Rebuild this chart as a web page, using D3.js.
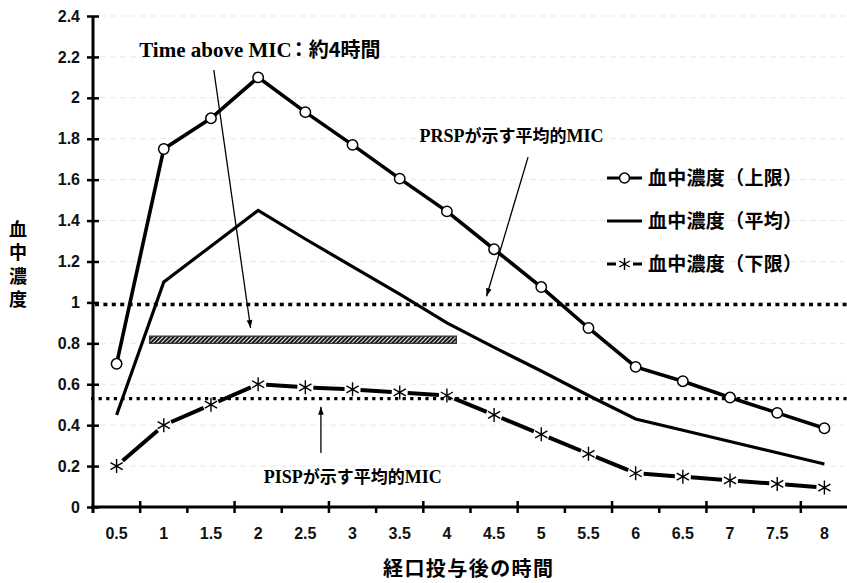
<!DOCTYPE html>
<html><head><meta charset="utf-8">
<script src="https://cdn.jsdelivr.net/npm/d3@7"></script>
<style>body{margin:0;background:#fff}svg{display:block}</style>
</head><body><svg id="c" width="847" height="583"></svg>
<script>
// ---- data ----
const categories = ["0.5","1","1.5","2","2.5","3","3.5","4","4.5","5","5.5","6","6.5","7","7.5","8"];
const upperValues = [0.70,1.75,1.90,2.10,1.93,1.77,1.605,1.445,1.26,1.075,0.875,0.685,0.615,0.535,0.46,0.385];
const meanValues  = [0.45,1.10,1.275,1.45,1.31,1.175,1.04,0.90,0.78,0.665,0.545,0.43,0.375,0.32,0.265,0.21];
const lowerValues = [0.20,0.40,0.50,0.60,0.585,0.575,0.56,0.545,0.45,0.355,0.26,0.165,0.148,0.13,0.113,0.095];
const yTicks = [0,0.2,0.4,0.6,0.8,1,1.2,1.4,1.6,1.8,2,2.2,2.4];
const yTickLabels = ["0","0.2","0.4","0.6","0.8","1","1.2","1.4","1.6","1.8","2","2.2","2.4"];
const seriesNames = ["血中濃度（上限）","血中濃度（平均）","血中濃度（下限）"];
const micPRSP = 0.99, micPISP = 0.53;
const timeAboveMic = [0.85, 4.1];     // hours
const timeBarLevel = [0.80, 0.835];   // concentration band of hatched bar
const yTitle = "血中濃度";
const xTitle = "経口投与後の時間";

// ---- scales ----
const svg = d3.select("#c");
const x = d3.scaleBand().domain(categories).range([93, 848]).padding(0);
const bw = x.bandwidth();
const cx = c => x(c) + bw/2;
const y = d3.scaleLinear().domain([0, 2.4]).range([507, 16]);
const xh = d3.scaleLinear().domain([0.5, 8]).range([cx("0.5"), cx("8")]);

const sans = "'Liberation Sans', Arial, sans-serif";
const jp = "'Noto Sans CJK JP', sans-serif";
const serif = "'Liberation Serif', 'Times New Roman', 'DejaVu Serif', serif";

// defs
const defs = svg.append("defs");
const pat = defs.append("pattern").attr("id","hatch").attr("patternUnits","userSpaceOnUse")
  .attr("width",3).attr("height",3).attr("patternTransform","rotate(45)");
pat.append("rect").attr("width",3).attr("height",3).attr("fill","#fff");
pat.append("line").attr("x1",1).attr("y1",0).attr("x2",1).attr("y2",3)
  .attr("stroke","#1a1a1a").attr("stroke-width",2.1);
const mk = defs.append("marker").attr("id","arr").attr("viewBox","0 0 10 10")
  .attr("refX",10).attr("refY",5).attr("markerWidth",10).attr("markerHeight",8)
  .attr("markerUnits","userSpaceOnUse").attr("orient","auto");
mk.append("path").attr("d","M0,1.5 L10,5 L0,8.5 Z").attr("fill","#000");

// faint gridlines
svg.append("g").selectAll("line").data(yTicks.slice(1)).join("line")
  .attr("x1", 100).attr("x2", 845).attr("y1", d=>y(d)).attr("y2", d=>y(d))
  .attr("stroke","#e9e9e9").attr("stroke-width",1).attr("stroke-dasharray","6,4");

// y axis
const yAxis = d3.axisLeft(y).tickValues(yTicks).tickFormat((d,i)=>yTickLabels[i])
  .tickSize(6).tickPadding(7);
const gy = svg.append("g").attr("transform","translate(93,0)").call(yAxis);
gy.select(".domain").remove();
gy.selectAll(".tick line").attr("x1",6).attr("x2",-6).attr("stroke","#000").attr("stroke-width",2.5);
gy.selectAll(".tick text").attr("font-family",sans).attr("font-weight","bold").attr("font-size",16).attr("fill","#111");
svg.append("line").attr("x1",93).attr("x2",93).attr("y1",y(2.4)).attr("y2",513)
  .attr("stroke","#000").attr("stroke-width",3);

// x axis
const xAxis = d3.axisBottom(x).tickSize(0).tickPadding(20.5);
const gx = svg.append("g").attr("transform",`translate(0,${y(0)})`).call(xAxis);
gx.select(".domain").remove();
gx.selectAll(".tick text").attr("font-family",sans).attr("font-weight","bold").attr("font-size",16).attr("fill","#111");
svg.append("line").attr("x1",91).attr("x2",847).attr("y1",y(0)).attr("y2",y(0))
  .attr("stroke","#000").attr("stroke-width",3);
svg.append("g").selectAll("line").data(categories.slice(1)).join("line")
  .attr("x1", d=>x(d)).attr("x2", d=>x(d))
  .attr("y1", (d,i)=> i%2===0 ? y(0)-6 : y(0)).attr("y2", y(0)+6)
  .attr("stroke","#000").attr("stroke-width",2.5);

// MIC dotted lines
svg.append("line").attr("x1",95).attr("x2",847).attr("y1",y(micPRSP)).attr("y2",y(micPRSP))
  .attr("stroke","#000").attr("stroke-width",3.5).attr("stroke-dasharray","4,4.4");
svg.append("line").attr("x1",91).attr("x2",847).attr("y1",y(micPISP)).attr("y2",y(micPISP))
  .attr("stroke","#000").attr("stroke-width",3.2).attr("stroke-dasharray","3.2,4.4");

// hatched bar
svg.append("rect").attr("x",xh(timeAboveMic[0])).attr("width",xh(timeAboveMic[1])-xh(timeAboveMic[0]))
  .attr("y",y(timeBarLevel[1])).attr("height",y(timeBarLevel[0])-y(timeBarLevel[1]))
  .attr("fill","url(#hatch)").attr("stroke","#333").attr("stroke-width",1.3);

// mean line
const line = d3.line().x(d=>cx(d[0])).y(d=>y(d[1]));
svg.append("path").datum(categories.map((c,i)=>[c,meanValues[i]])).attr("d",line)
  .attr("fill","none").attr("stroke","#000").attr("stroke-width",3.2).attr("stroke-linejoin","miter");

// upper line
const upPts = categories.map((c,i)=>[c,upperValues[i]]);
svg.append("path").datum(upPts).attr("d",line)
  .attr("fill","none").attr("stroke","#000").attr("stroke-width",3.6);
svg.append("g").selectAll("circle").data(upPts).join("circle")
  .attr("cx",d=>cx(d[0])).attr("cy",d=>y(d[1])).attr("r",5.2)
  .attr("fill","#fff").attr("stroke","#000").attr("stroke-width",1.5);

// lower line: segments with gaps around markers
const loPts = categories.map((c,i)=>[cx(c), y(lowerValues[i])]);
const gap = 8;
svg.append("g").selectAll("line").data(d3.pairs(loPts)).join("line")
  .each(function([a,b]){
    const dx=b[0]-a[0], dy=b[1]-a[1], L=Math.hypot(dx,dy), ux=dx/L, uy=dy/L;
    d3.select(this).attr("x1",a[0]+ux*gap).attr("y1",a[1]+uy*gap)
      .attr("x2",b[0]-ux*gap).attr("y2",b[1]-uy*gap);
  })
  .attr("stroke","#000").attr("stroke-width",4);
function star(g, px, py, s){
  const p = `M${px},${py-s}L${px},${py+s}M${px-s*0.87},${py-s*0.5}L${px+s*0.87},${py+s*0.5}M${px-s*0.87},${py+s*0.5}L${px+s*0.87},${py-s*0.5}`;
  g.append("path").attr("d",p).attr("stroke","#000").attr("stroke-width",1.4).attr("fill","none");
}
const gs = svg.append("g");
loPts.forEach(p=>star(gs,p[0],p[1],7));

// arrows (data coordinates)
const arrows = [
  {from:[1.53,2.136], to:[1.92,0.875]},
  {from:[4.86,1.71],  to:[4.42,1.03]},
  {from:[2.665,0.264],to:[2.665,0.49]}
];
svg.append("g").selectAll("line").data(arrows).join("line")
  .attr("x1",d=>xh(d.from[0])).attr("y1",d=>y(d.from[1]))
  .attr("x2",d=>xh(d.to[0])).attr("y2",d=>y(d.to[1]))
  .attr("stroke","#000").attr("stroke-width",1.3).attr("marker-end","url(#arr)");

// annotations
const t1 = svg.append("text").attr("x",xh(0.74)).attr("y",y(2.2)).attr("font-weight","bold");
t1.append("tspan").attr("font-family",serif).attr("font-size",21).text("Time above MIC");
t1.append("tspan").attr("font-family",jp).attr("font-size",20).attr("dx",-3).text("：約4時間");
function micLabel(h, v, name){
  const t = svg.append("text").attr("x",xh(h)).attr("y",y(v)).attr("font-weight","bold");
  t.append("tspan").attr("font-family",serif).attr("font-size",18).text(name);
  t.append("tspan").attr("font-family",jp).attr("font-size",17).text("が示す平均的");
  t.append("tspan").attr("font-family",serif).attr("font-size",18).text("MIC");
}
micLabel(3.71, 1.784, "PRSP");
micLabel(2.06, 0.117, "PISP");

// legend
const lg = svg.append("g").attr("transform","translate(607,178)");
const rowH = 43;
seriesNames.forEach((name,i)=>{
  const g = lg.append("g").attr("transform",`translate(0,${i*rowH})`);
  if(i===0){
    g.append("line").attr("x1",0).attr("x2",35).attr("stroke","#000").attr("stroke-width",3);
    g.append("circle").attr("cx",17.5).attr("r",5).attr("fill","#fff").attr("stroke","#000").attr("stroke-width",1.5);
  } else if(i===1){
    g.append("line").attr("x1",0).attr("x2",35).attr("stroke","#000").attr("stroke-width",3);
  } else {
    g.append("line").attr("x1",0).attr("x2",9).attr("stroke","#000").attr("stroke-width",3);
    g.append("line").attr("x1",26).attr("x2",35).attr("stroke","#000").attr("stroke-width",3);
    star(g,17.5,0,6);
  }
  g.append("text").attr("x",41).attr("y",0).attr("dy","0.36em")
    .attr("font-family",jp).attr("font-weight","bold").attr("font-size",19)
    .attr("textLength",154).attr("lengthAdjust","spacing")
    .text(name);
});

// axis titles
svg.append("text").attr("x",18).attr("y",220)
  .attr("font-family",jp).attr("font-weight","bold").attr("font-size",18)
  .style("writing-mode","vertical-rl").style("text-orientation","upright")
  .attr("letter-spacing",5.5).text(yTitle);
svg.append("text").attr("x",383).attr("y",576)
  .attr("font-family",jp).attr("font-weight","bold").attr("font-size",20)
  .attr("textLength",170).attr("lengthAdjust","spacing").text(xTitle);
</script></body></html>
